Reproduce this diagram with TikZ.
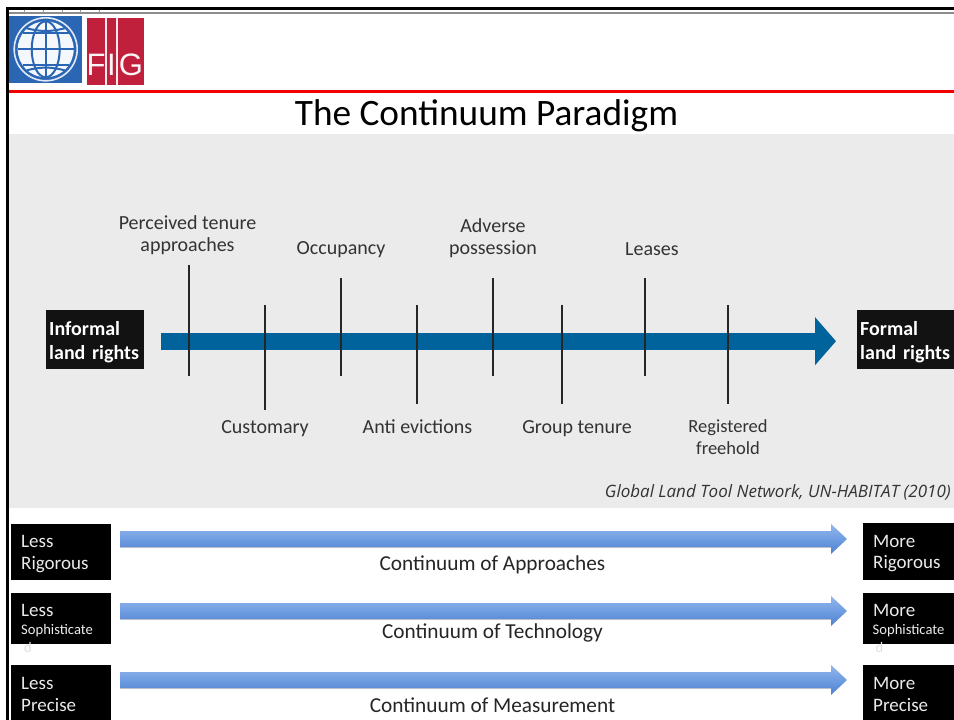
\documentclass[tikz,border=0pt]{standalone}
\usepackage{fontspec}
\setmainfont{Open Sans}
\newfontfamily\carlito{Carlito}
\newfontfamily\helv{Liberation Sans}
\usepackage{tikz}
\usetikzlibrary{positioning,calc,arrows.meta}
\definecolor{panelgrey}{HTML}{EBEBEB}
\definecolor{figblue}{HTML}{2A66B4}
\definecolor{figred}{HTML}{C0203C}
\definecolor{riverblue}{HTML}{00639C}
\definecolor{inktext}{HTML}{333333}
\definecolor{blocktop}{HTML}{93B6EA}
\definecolor{blockmid}{HTML}{6F9DE2}
\definecolor{blockbot}{HTML}{4F80CC}
\tikzset{
	ticklabel/.style={text=inktext,align=center,font=\fontsize{20}{22}\selectfont\carlito,inner sep=0pt},
	rightsbox/.style={fill=black!93,text=white,align=left,anchor=north west,minimum width=98pt,minimum height=59pt,text width=92pt,inner xsep=3pt,inner ysep=0pt,font=\fontsize{20}{24.5}\selectfont\bfseries\carlito},
	scalebox/.style={fill=black,anchor=north west,inner sep=0pt},
	scaletext/.style={text=white!92!black,inner sep=0pt,font=\fontsize{19}{22}\selectfont\carlito,anchor=west},
	scalesmall/.style={text=white!92!black,inner sep=0pt,font=\fontsize{14.6}{16}\selectfont\carlito,anchor=west},
	scalecaption/.style={text=black!85,inner sep=0pt,font=\fontsize{21.3}{24}\selectfont\carlito},
	figletter/.style={text=white!95!figred,font=\fontsize{31}{31}\selectfont\helv,inner sep=0pt},
	tickline/.style={draw=black!85,line width=1.2pt},
	blockshadow/.style={draw=black!35,line width=15pt,opacity=.6},
	blockarrow/.style={top color=blocktop,bottom color=blockbot,middle color=blockmid,shading angle=0},
}
\begin{document}
\begin{tikzpicture}[x=1pt,y=-1pt]
		\useasboundingbox (0,0) rectangle (954,720);
		\fill[white] (0,0) rectangle (954,720);
		% frame and header
		\fill[black] (6,7) rectangle (954,9.5);
		\fill[black] (6,7) rectangle (9,720);
		\fill[black!45] (9,12) rectangle (954,13.5);
		\foreach \x in {25,44,63,81,100} \draw[black!60,line width=.5pt] (\x,9.5) -- (\x-1,12);
		\fill[red!95!black] (9,89.5) rectangle (954,92.5);
		\fill[panelgrey] (9,134) rectangle (954,508);
		% globe
		\fill[figblue] (9,16) rectangle (82,83);
		\coordinate (globe) at (45.7,49.3);
		\draw[white!85!figblue,line width=1.6pt] (globe) circle (31.5);
		\fill[white!95!figblue] (globe) circle (28);
		\begin{scope}[figblue,line width=2pt]
			\draw (globe) ellipse (14 and 28);
			\draw ($(globe)+(0,-28)$) -- ($(globe)+(0,28)$);
			\draw ($(globe)+(-28,0)$) -- ($(globe)+(28,0)$);
			\draw ($(globe)+(-23,-16)$) -- ($(globe)+(23,-16)$);
			\draw ($(globe)+(-23,16)$) -- ($(globe)+(23,16)$);
			\draw ($(globe)+(-19,-21)$) to[bend right=14] ($(globe)+(19,-21)$);
			\draw ($(globe)+(-19,21)$) to[bend left=14] ($(globe)+(19,21)$);
		\end{scope}
		% red logo
		\fill[figred] (87,18) rectangle (144,85);
		\fill[white!90!figred] (105,18) rectangle (107,85);
		\fill[white!90!figred] (116,18) rectangle (118,85);
		\node[figletter] (figF) at (96,65) {F};
		\node[figletter] (figI) at (111.5,65) {I};
		\node[figletter] (figG) at (131,65) {G};
		\node[text=black,font=\fontsize{37.3}{42}\selectfont\carlito,inner sep=0pt] (title) at (486.5,116) {The Continuum Paradigm};
		% upper continuum
		\node[rightsbox] (informal) at (46,310) {\rule{0pt}{19pt}Informal\\land rights};
		\node[rightsbox] (formal) at (857,310) {\rule{0pt}{19pt}Formal\\land rights};
		\draw[riverblue,line width=17pt,-{Triangle[length=21pt,width=47pt]},shorten <=17pt,shorten >=21pt,transform canvas={yshift=-1.5pt}] (informal) -- (formal);
		\foreach \n/\x/\ya/\yb in {a/189/265/376,b/265/305/410,c/341/278/376,d/417/305/404,e/493/278/376,f/562/305/404,g/645/278/376,h/728/305/404}{
			\coordinate (tick\n-s) at (\x,\ya);
			\coordinate (tick\n-e) at (\x,\yb);
			\draw[tickline] (tick\n-s) -- (tick\n-e);
		}
		\node[ticklabel] (perceived) at (187.5,235.5) {Perceived tenure\\approaches};
		\node[ticklabel] (occupancy) at (341,250) {Occupancy};
		\node[ticklabel] (adverse) at (493,238) {Adverse\\possession};
		\node[ticklabel] (leases) at (652,249) {Leases};
		\node[ticklabel] (customary) at (265,428.5) {Customary};
		\node[ticklabel] (antievict) at (417.5,427) {Anti evictions};
		\node[ticklabel] (grouptenure) at (577,428.5) {Group tenure};
		\node[ticklabel,font=\fontsize{18.5}{21.5}\selectfont\carlito] (freehold) at (728,437) {Registered\\freehold};
		\node[anchor=east,text=inktext,inner sep=0pt,font=\fontsize{17}{20}\selectfont\itshape] (source) at (951,492) {Global Land Tool Network, UN-HABITAT (2010)};
		% lower scales
		\node[scalebox,minimum width=100pt,minimum height=56pt] (lessA) at (11,524) {};
		\node[scalebox,minimum width=100pt,minimum height=51pt] (lessB) at (11,593) {};
		\node[scalebox,minimum width=100pt,minimum height=55pt] (lessC) at (11,665) {};
		\node[scalebox,minimum width=91pt,minimum height=57pt] (moreA) at (863,523) {};
		\node[scalebox,minimum width=91pt,minimum height=51pt] (moreB) at (863,593) {};
		\node[scalebox,minimum width=91pt,minimum height=55pt] (moreC) at (863,665) {};
		\foreach \n/\y in {A/539,B/611,C/680}{
			\coordinate (arrow\n-s) at ($(less\n.east |- 0,\y)+(9,0)$);
			\coordinate (arrow\n-e) at ($(more\n.west |- 0,\y)+(-16,0)$);
			\draw[blockshadow,shorten >=16pt] ($(arrow\n-s)+(0,1.5)$) -- ($(arrow\n-e)+(0,1.5)$);
			\path[blockarrow] ($(arrow\n-s)+(0,-8)$) -- ($(arrow\n-e)+(-16,-8)$) -- ($(arrow\n-e)+(-16,-15)$) -- (arrow\n-e) -- ($(arrow\n-e)+(-16,15)$) -- ($(arrow\n-e)+(-16,8)$) -- ($(arrow\n-s)+(0,8)$) -- cycle;
		}
		\foreach \n/\w/\y in {lessA/Less/541,moreA/More/541,lessB/Less/610,moreB/More/610,lessC/Less/683,moreC/More/683}{
			\node[scaletext] (\n-top) at ($(\n.west |- 0,\y)+(10,0)$) {\w};
		}
		\foreach \n/\w/\y in {lessA/Rigorous/565,moreA/Rigorous/564,lessC/Precise/705,moreC/Precise/705}{
			\node[scaletext] (\n-low) at ($(\n.west |- 0,\y)+(10,0)$) {\w};
		}
		\foreach \n/\x in {lessB/21,moreB/872.5}{
			\node[scalesmall] (\n-low) at (\x,631) {Sophisticate};
			\node[scalesmall,text=black!12] (\n-wrap) at (\x+3,647) {d};
		}
		\node[scalecaption] (capA) at (492.5,564.5) {Continuum of Approaches};
		\node[scalecaption] (capB) at (492.5,632.5) {Continuum of Technology};
		\node[scalecaption] (capC) at (492.5,705) {Continuum of Measurement};
		\end{tikzpicture}
\end{document}
